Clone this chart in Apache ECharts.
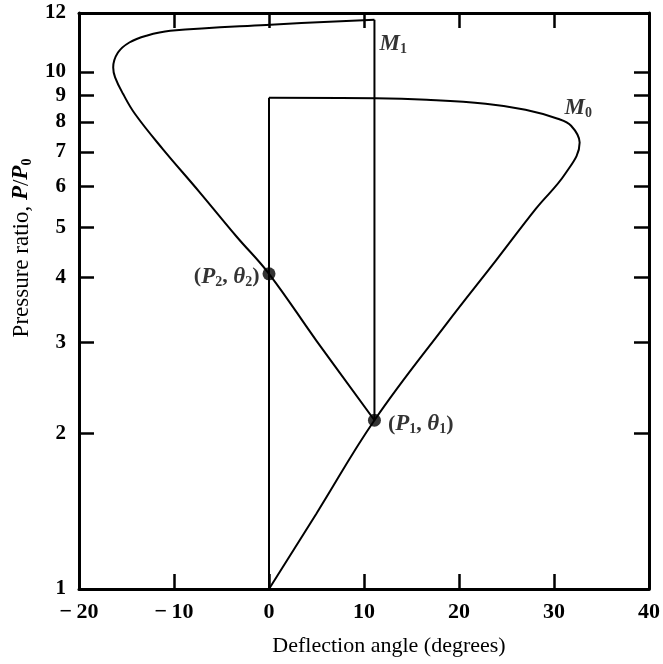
<!DOCTYPE html>
<html>
<head>
<meta charset="utf-8">
<script src="https://cdn.jsdelivr.net/npm/echarts@6/dist/echarts.min.js"></script>
<style>
  html, body { margin: 0; padding: 0; background: #ffffff; }
  #chart { width: 663px; height: 664px; }
</style>
</head>
<body>
<div id="chart"></div>
<script>
// Axis ranges and tick labels
const xMin = -20, xMax = 40, xStep = 10;
const yTicks = [1, 2, 3, 4, 5, 6, 7, 8, 9, 10];
const yTop = 13;
const yTopLabel = '12';

// Shock polar of the free stream (M0): from the normal-shock point around to (0, 1)
const m0Theta = [0, 11.2, 16.6, 22.8, 27.0, 30.4, 31.8, 32.7, 31.2, 28.1, 23.9, 18.7, 11.1, 5.0, 0];
const m0Ratio = [8.91, 8.89, 8.83, 8.68, 8.45, 8.12, 7.87, 7.30, 6.36, 5.44, 4.32, 3.26, 2.12, 1.40, 1];

// Shock polar behind the first shock (M1): from its normal-shock point around to (P1, θ1)
const m1Theta = [11.1, -0.3, -10.4, -12.9, -14.7, -15.9, -16.4, -16.2, -15.35, -14.1, -11.2, -7.36, -3.4, 0, 5.0, 11.1];
const m1Ratio = [12.61, 12.33, 12.01, 11.75, 11.40, 10.90, 10.20, 9.76, 9.06, 8.29, 7.10, 5.87, 4.80, 4.07, 3.02, 2.12];

// Marked states
const pointNames = ['P1', 'P2'];
const pointTheta = [11.1, 0];
const pointRatio = [2.12, 4.07];

const serif = '"Liberation Serif", "DejaVu Serif", "Times New Roman", serif';

const zip = (a, b) => a.map((v, i) => [v, b[i]]);
const m0Curve = zip(m0Theta, m0Ratio);
const m1Curve = zip(m1Theta, m1Ratio);
// straight closing segments of each polar (normal-shock line)
const m0Close = [m0Curve[m0Curve.length - 1], m0Curve[0]];
const m1Close = [m1Curve[m1Curve.length - 1], m1Curve[0]];

const rich = {
  t: { fontFamily: serif, fontSize: 22, fontWeight: 'bold', color: '#000' },
  i: { fontFamily: serif, fontSize: 23, fontWeight: 'bold', fontStyle: 'italic', color: '#000' },
  s: { fontFamily: serif, fontSize: 14, fontWeight: 'bold', color: '#000', padding: [11, 0, 0, 0] }
};

const blackLine = { color: '#000', width: 3 };
const tickStyle = { color: '#000', width: 2.5 };

const chart = echarts.init(document.getElementById('chart'), null, { renderer: 'canvas' });
chart.setOption({
  backgroundColor: '#ffffff',
  animation: false,
  grid: { left: 79, right: 10, top: 13, bottom: 75, containLabel: false },
  xAxis: [
    {
      type: 'value', min: xMin, max: xMax, interval: xStep, position: 'bottom',
      name: 'Deflection angle (degrees)', nameLocation: 'middle', nameGap: 46,
      nameTextStyle: { fontFamily: serif, fontSize: 22, color: '#000', padding: [0, 0, 0, 50] },
      axisLine: { show: true, onZero: false, lineStyle: blackLine },
      axisTick: { show: true, inside: true, length: 15, lineStyle: tickStyle },
      axisLabel: {
        margin: 12, fontFamily: serif, fontSize: 22, fontWeight: 'bold', color: '#000',
        formatter: v => (v < 0 ? '\u2212\u2009' + Math.abs(v) : String(v))
      },
      splitLine: { show: false }
    },
    {
      type: 'value', min: xMin, max: xMax, interval: xStep, position: 'top',
      axisLine: { show: true, onZero: false, lineStyle: blackLine },
      axisTick: { show: true, inside: true, length: 15, lineStyle: tickStyle },
      axisLabel: { show: false },
      splitLine: { show: false }
    }
  ],
  yAxis: [
    {
      type: 'log', logBase: 10, min: 1, max: yTop, position: 'left',
      name: 'Pressure ratio, {i|P}/{i|P}{s|0}', nameLocation: 'middle', nameGap: 45, nameRotate: 90,
      nameTextStyle: {
        fontFamily: serif, fontSize: 23, color: '#000', padding: [0, 0, 0, 106],
        rich: {
          i: { fontFamily: serif, fontSize: 23, fontStyle: 'italic', fontWeight: 'bold', color: '#000' },
          s: { fontFamily: serif, fontSize: 14, fontWeight: 'bold', color: '#000', padding: [11, 0, 0, 0] }
        }
      },
      axisLine: { show: true, onZero: false, lineStyle: blackLine },
      axisTick: { show: true, inside: true, length: 15, lineStyle: tickStyle, customValues: yTicks.slice(1) },
      axisLabel: {
        margin: 13, fontFamily: serif, fontSize: 21, fontWeight: 'bold', color: '#000',
        customValues: yTicks.concat([yTop]),
        formatter: v => (Math.abs(v - yTop) < 1e-6 ? yTopLabel : String(Math.round(v)))
      },
      splitLine: { show: false }
    },
    {
      type: 'log', logBase: 10, min: 1, max: yTop, position: 'right',
      axisLine: { show: true, onZero: false, lineStyle: blackLine },
      axisTick: { show: true, inside: true, length: 15, lineStyle: tickStyle, customValues: yTicks.slice(1) },
      axisLabel: { show: false },
      splitLine: { show: false }
    }
  ],
  series: [
    {
      name: 'M0', type: 'line', data: m0Curve, smooth: 0.4, showSymbol: false, silent: true,
      lineStyle: { color: '#000', width: 2 }
    },
    {
      name: 'M0 normal', type: 'line', data: m0Close, showSymbol: false, silent: true,
      lineStyle: { color: '#000', width: 2 }
    },
    {
      name: 'M1', type: 'line', data: m1Curve, smooth: 0.4, showSymbol: false, silent: true,
      lineStyle: { color: '#000', width: 2 }
    },
    {
      name: 'M1 normal', type: 'line', data: m1Close, showSymbol: false, silent: true,
      lineStyle: { color: '#000', width: 2 }
    },
    {
      name: 'states', type: 'scatter', symbol: 'circle', symbolSize: 13, silent: true,
      itemStyle: { color: '#000' },
      data: pointNames.map((n, k) => ({
        name: n,
        value: [pointTheta[k], pointRatio[k]],
        label: n === 'P1'
          ? { show: true, position: 'right', distance: 7, offset: [0, 4], rich,
              formatter: '{t|(}{i|P}{s|1}{t|, }{i|θ}{s|1}{t|)}' }
          : { show: true, position: 'left', distance: 3, offset: [0, 3], rich,
              formatter: '{t|(}{i|P}{s|2}{t|, }{i|θ}{s|2}{t|)}' }
      }))
    },
    {
      name: 'curve names', type: 'scatter', symbolSize: 0, silent: true,
      data: [
        { value: [m1Theta[0], m1Ratio[0]],
          label: { show: true, position: 'right', distance: 5, offset: [0, 24], rich,
                   formatter: '{i|M}{s|1}' } },
        { value: [m0Theta[4], m0Ratio[4]],
          label: { show: true, position: 'right', distance: 39, offset: [0, -2], rich,
                   formatter: '{i|M}{s|0}' } }
      ]
    }
  ]
});
</script>
</body>
</html>
